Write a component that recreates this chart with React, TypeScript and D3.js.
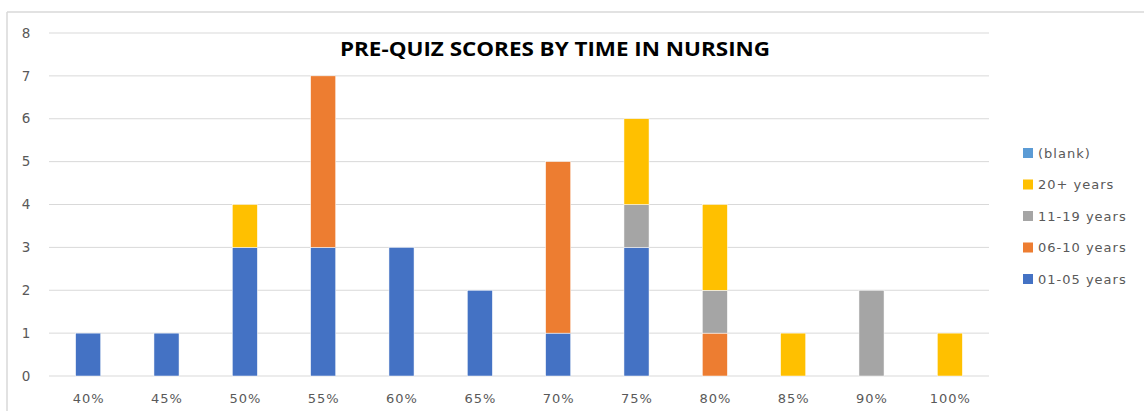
import React from "react";
import * as d3 from "d3";

const categories = ["40%", "45%", "50%", "55%", "60%", "65%", "70%", "75%", "80%", "85%", "90%", "100%"];
const seriesNames = ["01-05 years", "06-10 years", "11-19 years", "20+ years", "(blank)"];
const s0105 = [1, 1, 3, 3, 3, 2, 1, 3, 0, 0, 0, 0];
const s0610 = [0, 0, 0, 4, 0, 0, 4, 0, 1, 0, 0, 0];
const s1119 = [0, 0, 0, 0, 0, 0, 0, 1, 1, 0, 2, 0];
const s20p = [0, 0, 1, 0, 0, 0, 0, 2, 2, 1, 0, 1];
const sBlank = [0, 0, 0, 0, 0, 0, 0, 0, 0, 0, 0, 0];
const yTicks = [0, 1, 2, 3, 4, 5, 6, 7, 8];
const colors = ["#4472C4", "#ED7D31", "#A5A5A5", "#FFC000", "#5B9BD5"];
const title = "PRE-QUIZ SCORES BY TIME IN NURSING";

export default function App() {
  const W = 1144, H = 411;
  const left = 49, right = 989, top = 33, bottom = 376;
  const x = d3.scaleBand<string>().domain(categories).range([left, right]).paddingInner(0.68).paddingOuter(0.34);
  const y = d3.scaleLinear().domain([0, 8]).range([bottom, top]);
  const rows = categories.map((c, i) => ({
    cat: c,
    "01-05 years": s0105[i],
    "06-10 years": s0610[i],
    "11-19 years": s1119[i],
    "20+ years": s20p[i],
    "(blank)": sBlank[i],
  }));
  const stack = d3.stack<any>().keys(seriesNames)(rows);
  const font = "'DejaVu Sans', 'Open Sans', sans-serif";
  const titleFont = "'Open Sans', 'DejaVu Sans', sans-serif";
  const legendOrder = [4, 3, 2, 1, 0];
  return (
    <svg width={W} height={H} style={{ position: "absolute", left: 0, top: 0, background: "#fff" }}>
      <rect x={0} y={0} width={W} height={H} fill="#fff" />
      <line x1={7} x2={W} y1={12} y2={12} stroke="#D9D9D9" strokeWidth={1.5} />
      <line x1={7} x2={7} y1={12} y2={H} stroke="#D9D9D9" strokeWidth={1.5} />
      {yTicks.map((t) => (
        <g key={t}>
          <line x1={left} x2={right} y1={y(t)} y2={y(t)} stroke="#D9D9D9" strokeWidth={1} />
          <text x={26} y={y(t)} dy="0.35em" textAnchor="middle" fontFamily={font} fontSize={13.5} fill="#595959">
            {t}
          </text>
        </g>
      ))}
      {stack.map((layer, si) =>
        layer.map((d, i) =>
          d[1] - d[0] > 0 ? (
            <rect
              key={si + "-" + i}
              x={x(categories[i])!}
              width={x.bandwidth()}
              y={y(d[1])}
              height={y(d[0]) - y(d[1])}
              fill={colors[si]}
              stroke="#fff"
              strokeWidth={0.5}
            />
          ) : null
        )
      )}
      {categories.map((c) => (
        <text key={c} x={x(c)! + x.bandwidth() / 2 + 0.5} y={398} dy="0.35em" textAnchor="middle" fontFamily={font} fontSize={13} letterSpacing={1} fill="#595959">
          {c}
        </text>
      ))}
      <text x={555} y={49} dy="0.35em" textAnchor="middle" fontFamily={titleFont} fontWeight="bold" fontSize={19} textLength={430} lengthAdjust="spacingAndGlyphs" fill="#000">
        {title}
      </text>
      {legendOrder.map((si, k) => (
        <g key={si} transform={`translate(1023, ${153 + k * 31.5})`}>
          <rect x={0} y={-5} width={10} height={10} fill={colors[si]} />
          <text x={15} y={0} dy="0.35em" fontFamily={font} fontSize={13} letterSpacing={1} fill="#595959">
            {seriesNames[si]}
          </text>
        </g>
      ))}
    </svg>
  );
}
